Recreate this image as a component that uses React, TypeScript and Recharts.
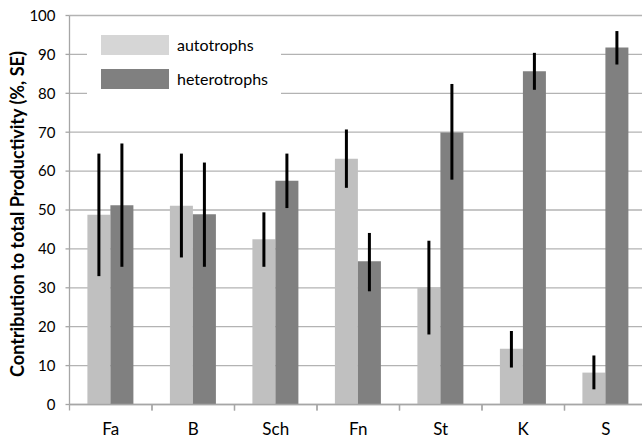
import React from "react";
import { BarChart, Bar, XAxis, YAxis, CartesianGrid, ErrorBar } from "recharts";

const categories = ["Fa", "B", "Sch", "Fn", "St", "K", "S"];
const autotrophs = [48.8, 51.1, 42.5, 63.2, 30.1, 14.3, 8.2];
const heterotrophs = [51.2, 48.9, 57.5, 36.8, 69.9, 85.7, 91.8];
const autoLow = [33.0, 37.8, 35.4, 55.7, 18.0, 9.5, 3.9];
const autoHigh = [64.5, 64.5, 49.4, 70.7, 42.1, 18.9, 12.6];
const hetLow = [35.4, 35.4, 50.5, 29.1, 57.8, 80.9, 87.4];
const hetHigh = [67.1, 62.2, 64.5, 44.1, 82.4, 90.4, 96.0];
const yTicks = [0, 10, 20, 30, 40, 50, 60, 70, 80, 90, 100];
const yTitle = "Contribution to total Productivity (%, SE)";

const data = categories.map((c, i) => ({
  name: c,
  auto: autotrophs[i],
  het: heterotrophs[i],
  autoErr: [autotrophs[i] - autoLow[i], autoHigh[i] - autotrophs[i]],
  hetErr: [heterotrophs[i] - hetLow[i], hetHigh[i] - heterotrophs[i]],
}));

const FONT = "Lato, 'Open Sans', sans-serif";
const LIGHT = "#c0c0c0";
const DARK = "#808080";
const AXIS = "#a6a6a6";
const AXIS_Y = 404.5;

const XTick = (props: any) => {
  const { x, payload } = props;
  const half = payload && payload.offset ? payload.offset : 41.2;
  return (
    <g>
      <line x1={x - half} y1={AXIS_Y} x2={x - half} y2={AXIS_Y + 6} stroke={AXIS} strokeWidth={1.3} />
      <line x1={x + half} y1={AXIS_Y} x2={x + half} y2={AXIS_Y + 6} stroke={AXIS} strokeWidth={1.3} />
      <text x={x} y={AXIS_Y + 30.5} textAnchor="middle" fontFamily={FONT} fontSize={17} fill="#000">
        {payload.value}
      </text>
    </g>
  );
};

const YTitle = (props: any) => {
  const vb = props.viewBox || { x: 0, y: 15.5, width: 69.5, height: 389 };
  const cx = 24;
  const cy = vb.y + vb.height / 2 + 4;
  return (
    <text
      x={cx}
      y={cy}
      transform={`rotate(-90, ${cx}, ${cy})`}
      textAnchor="middle"
      fontFamily={FONT}
      fontSize={18}
      fontWeight={700}
      fill="#000"
    >
      {yTitle}
    </text>
  );
};

export default function App() {
  return (
    <div style={{ position: "absolute", left: 0, top: 0, width: 642, height: 439, background: "#fff" }}>
      <BarChart
        width={642}
        height={439}
        data={data}
        margin={{ top: 15.5, right: -5, bottom: 4.5, left: 0 }}
        barCategoryGap="21.7%"
        barGap={0}
      >
        <CartesianGrid vertical={false} stroke="#b3b3b3" strokeWidth={1.3} />
        <XAxis
          dataKey="name"
          height={30}
          stroke={AXIS}
          strokeWidth={1.3}
          tickLine={false}
          tickSize={0}
          tickMargin={0}
          tick={<XTick />}
          interval={0}
        />
        <YAxis
          width={69.5}
          domain={[0, 100]}
          ticks={yTicks}
          interval={0}
          stroke={AXIS}
          strokeWidth={1.3}
          tickSize={4}
          tickMargin={10}
          tick={{ fontFamily: FONT, fontSize: 15, fill: "#000" }}
          label={<YTitle />}
        />
        <Bar dataKey="auto" fill={LIGHT} isAnimationActive={false}>
          <ErrorBar dataKey="autoErr" width={0} stroke="#000" strokeWidth={3} />
        </Bar>
        <Bar dataKey="het" fill={DARK} isAnimationActive={false}>
          <ErrorBar dataKey="hetErr" width={0} stroke="#000" strokeWidth={3} />
        </Bar>
      </BarChart>
      <div
        style={{
          position: "absolute",
          left: 87,
          top: 22,
          width: 194,
          height: 80,
          background: "#fff",
          fontFamily: FONT,
          fontSize: 16,
        }}
      >
        <div style={{ position: "absolute", left: 14, top: 12.7, width: 68, height: 20.3, background: "#d6d6d6" }} />
        <div style={{ position: "absolute", left: 90, top: 13, lineHeight: "20px" }}>autotrophs</div>
        <div style={{ position: "absolute", left: 14, top: 46.7, width: 68, height: 20.3, background: DARK }} />
        <div style={{ position: "absolute", left: 90, top: 47, lineHeight: "20px" }}>heterotrophs</div>
      </div>
    </div>
  );
}
